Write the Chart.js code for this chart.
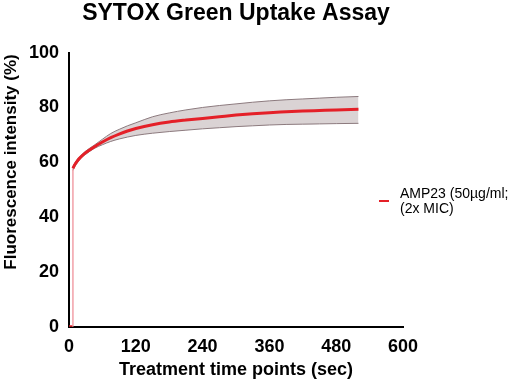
<!DOCTYPE html>
<html>
<head>
<meta charset="utf-8">
<script src="https://cdn.jsdelivr.net/npm/chart.js@4/dist/chart.umd.min.js"></script>
<style>
  html, body { margin: 0; padding: 0; background: #fff; }
  #wrap { width: 512px; height: 383px; }
</style>
</head>
<body>
<div id="wrap"><canvas id="c" width="512" height="383"></canvas></div>
<script>
// ---- data ----
const chartTitle = "SYTOX Green Uptake Assay";
const xTitle = "Treatment time points (sec)";
const yTitle = "Fluorescence intensity (%)";
const seriesLabel = ["AMP23 (50\u00B5g/ml;", "(2x MIC)"];

const xTicks = [0, 120, 240, 360, 480, 600];
const yTicks = [0, 20, 40, 60, 80, 100];

// initial jump from baseline
const jumpTimes  = [0, 7, 7];
const jumpValues = [0, 0, 57.8];

// mean curve
const times = [7, 10, 15, 20, 30, 45, 60, 75, 90, 105, 120, 150, 180, 210, 240, 270, 300, 330, 360, 390, 420, 450, 480, 520];
const meanValues  = [57.8, 59.0, 60.5, 61.7, 63.5, 65.6, 67.4, 69.0, 70.3, 71.4, 72.3, 73.7, 74.7, 75.4, 76.0, 76.6, 77.2, 77.7, 78.1, 78.4, 78.7, 78.9, 79.1, 79.3];
const upperValues = [58.5, 59.6, 61.1, 62.2, 64.1, 66.2, 68.4, 70.5, 72.0, 73.3, 74.4, 76.6, 78.0, 79.1, 80.0, 80.7, 81.3, 81.9, 82.4, 82.8, 83.1, 83.4, 83.7, 84.0];
const lowerValues = [57.0, 58.3, 59.8, 61.2, 62.9, 65.0, 66.4, 67.6, 68.5, 69.2, 69.8, 70.6, 71.2, 71.7, 72.2, 72.6, 73.0, 73.3, 73.6, 73.8, 73.9, 74.0, 74.1, 74.2];

const toXY = (xs, ys) => xs.map((x, i) => ({ x: x, y: ys[i] }));

const FONT = "'Liberation Sans', Arial, Helvetica, sans-serif";
const RED = "rgb(228, 32, 40)";
const BAND = "rgb(218, 211, 212)";
const EDGE = "rgb(140, 122, 126)";
const PINK = "rgb(242, 160, 168)";

const legendAndYTitle = {
  id: "legendAndYTitle",
  afterDraw(chart) {
    const ctx = chart.ctx;
    ctx.save();
    // y axis title (offset upward like the reference)
    ctx.translate(11, 162);
    ctx.rotate(-Math.PI / 2);
    ctx.font = "bold 17px " + FONT;
    ctx.fillStyle = "#000";
    ctx.textAlign = "center";
    ctx.textBaseline = "middle";
    ctx.fillText(yTitle, 0, 0);
    ctx.restore();

    // legend
    ctx.save();
    ctx.strokeStyle = RED;
    ctx.lineWidth = 2;
    ctx.beginPath();
    ctx.moveTo(379, 201);
    ctx.lineTo(389, 201);
    ctx.stroke();
    ctx.font = "14px " + FONT;
    ctx.fillStyle = "#000";
    ctx.textAlign = "left";
    ctx.textBaseline = "alphabetic";
    ctx.fillText(seriesLabel[0], 400, 198);
    ctx.fillText(seriesLabel[1], 400, 213);
    ctx.restore();
  }
};

new Chart(document.getElementById("c"), {
  type: "line",
  data: {
    datasets: [
      {
        label: "upper",
        data: toXY(times, upperValues),
        borderColor: EDGE,
        borderWidth: 1,
        backgroundColor: BAND,
        fill: "+1",
        pointRadius: 0,
        cubicInterpolationMode: "monotone",
        order: 3
      },
      {
        label: "lower",
        data: toXY(times, lowerValues),
        borderColor: EDGE,
        borderWidth: 1,
        fill: false,
        pointRadius: 0,
        cubicInterpolationMode: "monotone",
        order: 2
      },
      {
        label: "jump",
        data: toXY(jumpTimes, jumpValues),
        borderColor: RED,
        borderWidth: 3,
        fill: false,
        pointRadius: 0,
        tension: 0,
        segment: {
          borderColor: c => (c.p0.parsed.x === c.p1.parsed.x ? PINK : undefined),
          borderWidth: c => (c.p0.parsed.x === c.p1.parsed.x ? 1.5 : undefined)
        },
        order: 1
      },
      {
        label: seriesLabel.join(" "),
        data: toXY(times, meanValues),
        borderColor: RED,
        borderWidth: 3,
        fill: false,
        pointRadius: 0,
        cubicInterpolationMode: "monotone",
        order: 0
      }
    ]
  },
  options: {
    responsive: false,
    animation: false,
    layout: { padding: { left: 27, right: 109, top: 0, bottom: 2 } },
    plugins: {
      legend: { display: false },
      tooltip: { enabled: false },
      title: {
        display: true,
        text: chartTitle,
        fullSize: false,
        color: "#000",
        font: { family: FONT, size: 23, weight: "bold" },
        padding: { top: 0, bottom: 25 }
      }
    },
    scales: {
      x: {
        type: "linear",
        min: 0,
        max: 600,
        afterBuildTicks: s => { s.ticks = xTicks.map(v => ({ value: v })); },
        grid: { display: false, drawOnChartArea: false, drawTicks: true, tickLength: 7, tickColor: "#000", tickWidth: 2 },
        border: { display: true, color: "#000", width: 2 },
        ticks: { color: "#000", font: { family: FONT, size: 18, weight: "bold" }, padding: 2, maxRotation: 0 },
        title: { display: true, text: xTitle, color: "#000", font: { family: FONT, size: 18, weight: "bold" }, padding: { top: 0, bottom: 0 } }
      },
      y: {
        type: "linear",
        min: 0,
        max: 100,
        afterBuildTicks: s => { s.ticks = yTicks.map(v => ({ value: v })); },
        grid: { display: false, drawOnChartArea: false, drawTicks: true, tickLength: 8, tickColor: "#000", tickWidth: 2 },
        border: { display: true, color: "#000", width: 2 },
        ticks: { color: "#000", font: { family: FONT, size: 18, weight: "bold" }, padding: 2 }
      }
    }
  },
  plugins: [legendAndYTitle]
});
</script>
</body>
</html>
